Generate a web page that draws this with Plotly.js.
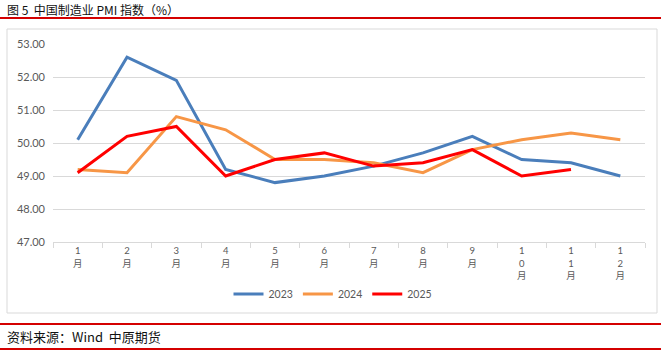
<!DOCTYPE html>
<html>
<head>
<meta charset="utf-8">
<script src="https://cdn.plot.ly/plotly-3.0.1.min.js"></script>
<style>
html,body{margin:0;padding:0;background:#fff;}
#chart{width:661px;height:352px;}
</style>
</head>
<body>
<div id="chart"></div>
<script>
var months = ['1月','2月','3月','4月','5月','6月','7月','8月','9月','10月','11月','12月'];
var monthNums = ['1','2','3','4','5','6','7','8','9','10','11','12'];
var pmi2023 = [50.1, 52.6, 51.9, 49.2, 48.8, 49.0, 49.3, 49.7, 50.2, 49.5, 49.4, 49.0];
var pmi2024 = [49.2, 49.1, 50.8, 50.4, 49.5, 49.5, 49.4, 49.1, 49.8, 50.1, 50.3, 50.1];
var pmi2025 = [49.1, 50.2, 50.5, 49.0, 49.5, 49.7, 49.3, 49.4, 49.8, 49.0, 49.2];
var yTicks = [47, 48, 49, 50, 51, 52, 53];

var tickText = monthNums.map(function(n){ return n.split('').join('<br>') + '<br>月'; });

// layout geometry (pixels)
var W = 661, H = 352;
var L = 53, R = 16, T = 44, B = 110;
var pw = W - L - R, ph = H - T - B;
function px(x){ return (x - L) / pw; }
function py(y){ return (H - B - y) / ph; }

var traces = [
  {name:'2023', x: months, y: pmi2023, type:'scatter', mode:'lines', line:{color:'#4a7ebb', width:3}},
  {name:'2024', x: months.slice(0, pmi2024.length), y: pmi2024, type:'scatter', mode:'lines', line:{color:'#f79646', width:3}},
  {name:'2025', x: months.slice(0, pmi2025.length), y: pmi2025, type:'scatter', mode:'lines', line:{color:'#ff0000', width:3}}
];

var layout = {
  width: W, height: H,
  margin: {l: L, r: R, t: T, b: B, pad: 0},
  paper_bgcolor: '#ffffff',
  plot_bgcolor: '#ffffff',
  showlegend: true,
  legend: {orientation:'h', x: px(333), xanchor:'center', y: py(294), yanchor:'middle',
           font:{family:'Lato, "Noto Sans", sans-serif', size:10.5, color:'#595959'},
           itemwidth: 30, tracegroupgap: 0},
  xaxis: {
    type:'category', tickvals: months, ticktext: tickText,
    range: [-0.5, 11.5],
    showgrid:false, showline:true, linecolor:'#d9d9d9', linewidth:1,
    ticks:'outside', tickson:'boundaries', ticklen:5, tickcolor:'#d9d9d9',
    tickangle: 0,
    tickfont:{family:'Lato, "Noto Sans CJK SC", sans-serif', size:9.5, color:'#595959'},
    fixedrange:true
  },
  yaxis: {
    range:[47, 53], tickvals: yTicks, ticktext: yTicks.map(function(v){return v.toFixed(2);}),
    showgrid:true, gridcolor:'#d9d9d9', gridwidth:1,
    zeroline:false, showline:false, ticks:'',
    ticklabelstandoff: 7,
    tickfont:{family:'Lato, "Noto Sans", sans-serif', size:11, color:'#595959'},
    fixedrange:true
  },
  shapes: [
    {type:'line', xref:'paper', yref:'paper', x0:px(0), x1:px(661), y0:py(18), y1:py(18), line:{color:'#d40000', width:2}},
    {type:'rect', xref:'paper', yref:'paper', x0:px(7), x1:px(657), y0:py(29), y1:py(313), line:{color:'#d9d9d9', width:1}},
    {type:'line', xref:'paper', yref:'paper', x0:px(0), x1:px(661), y0:py(324), y1:py(324), line:{color:'#d40000', width:2}},
    {type:'line', xref:'paper', yref:'paper', x0:px(0), x1:px(661), y0:py(349), y1:py(349), line:{color:'#d40000', width:2}}
  ],
  annotations: [
    {text:'图 5  中国制造业 PMI 指数（%）', xref:'paper', yref:'paper', x:px(6), y:py(9.5), xanchor:'left', yanchor:'middle',
     showarrow:false, borderpad:0, font:{family:'"Noto Sans CJK SC", sans-serif', size:12, color:'#111111'}},
    {text:'资料来源：Wind  中原期货', xref:'paper', yref:'paper', x:px(6), y:py(336), xanchor:'left', yanchor:'middle',
     showarrow:false, borderpad:0, font:{family:'"Noto Sans CJK SC", sans-serif', size:13, color:'#111111'}}
  ]
};

Plotly.newPlot('chart', traces, layout, {displayModeBar:false, staticPlot:true});
</script>
</body>
</html>
